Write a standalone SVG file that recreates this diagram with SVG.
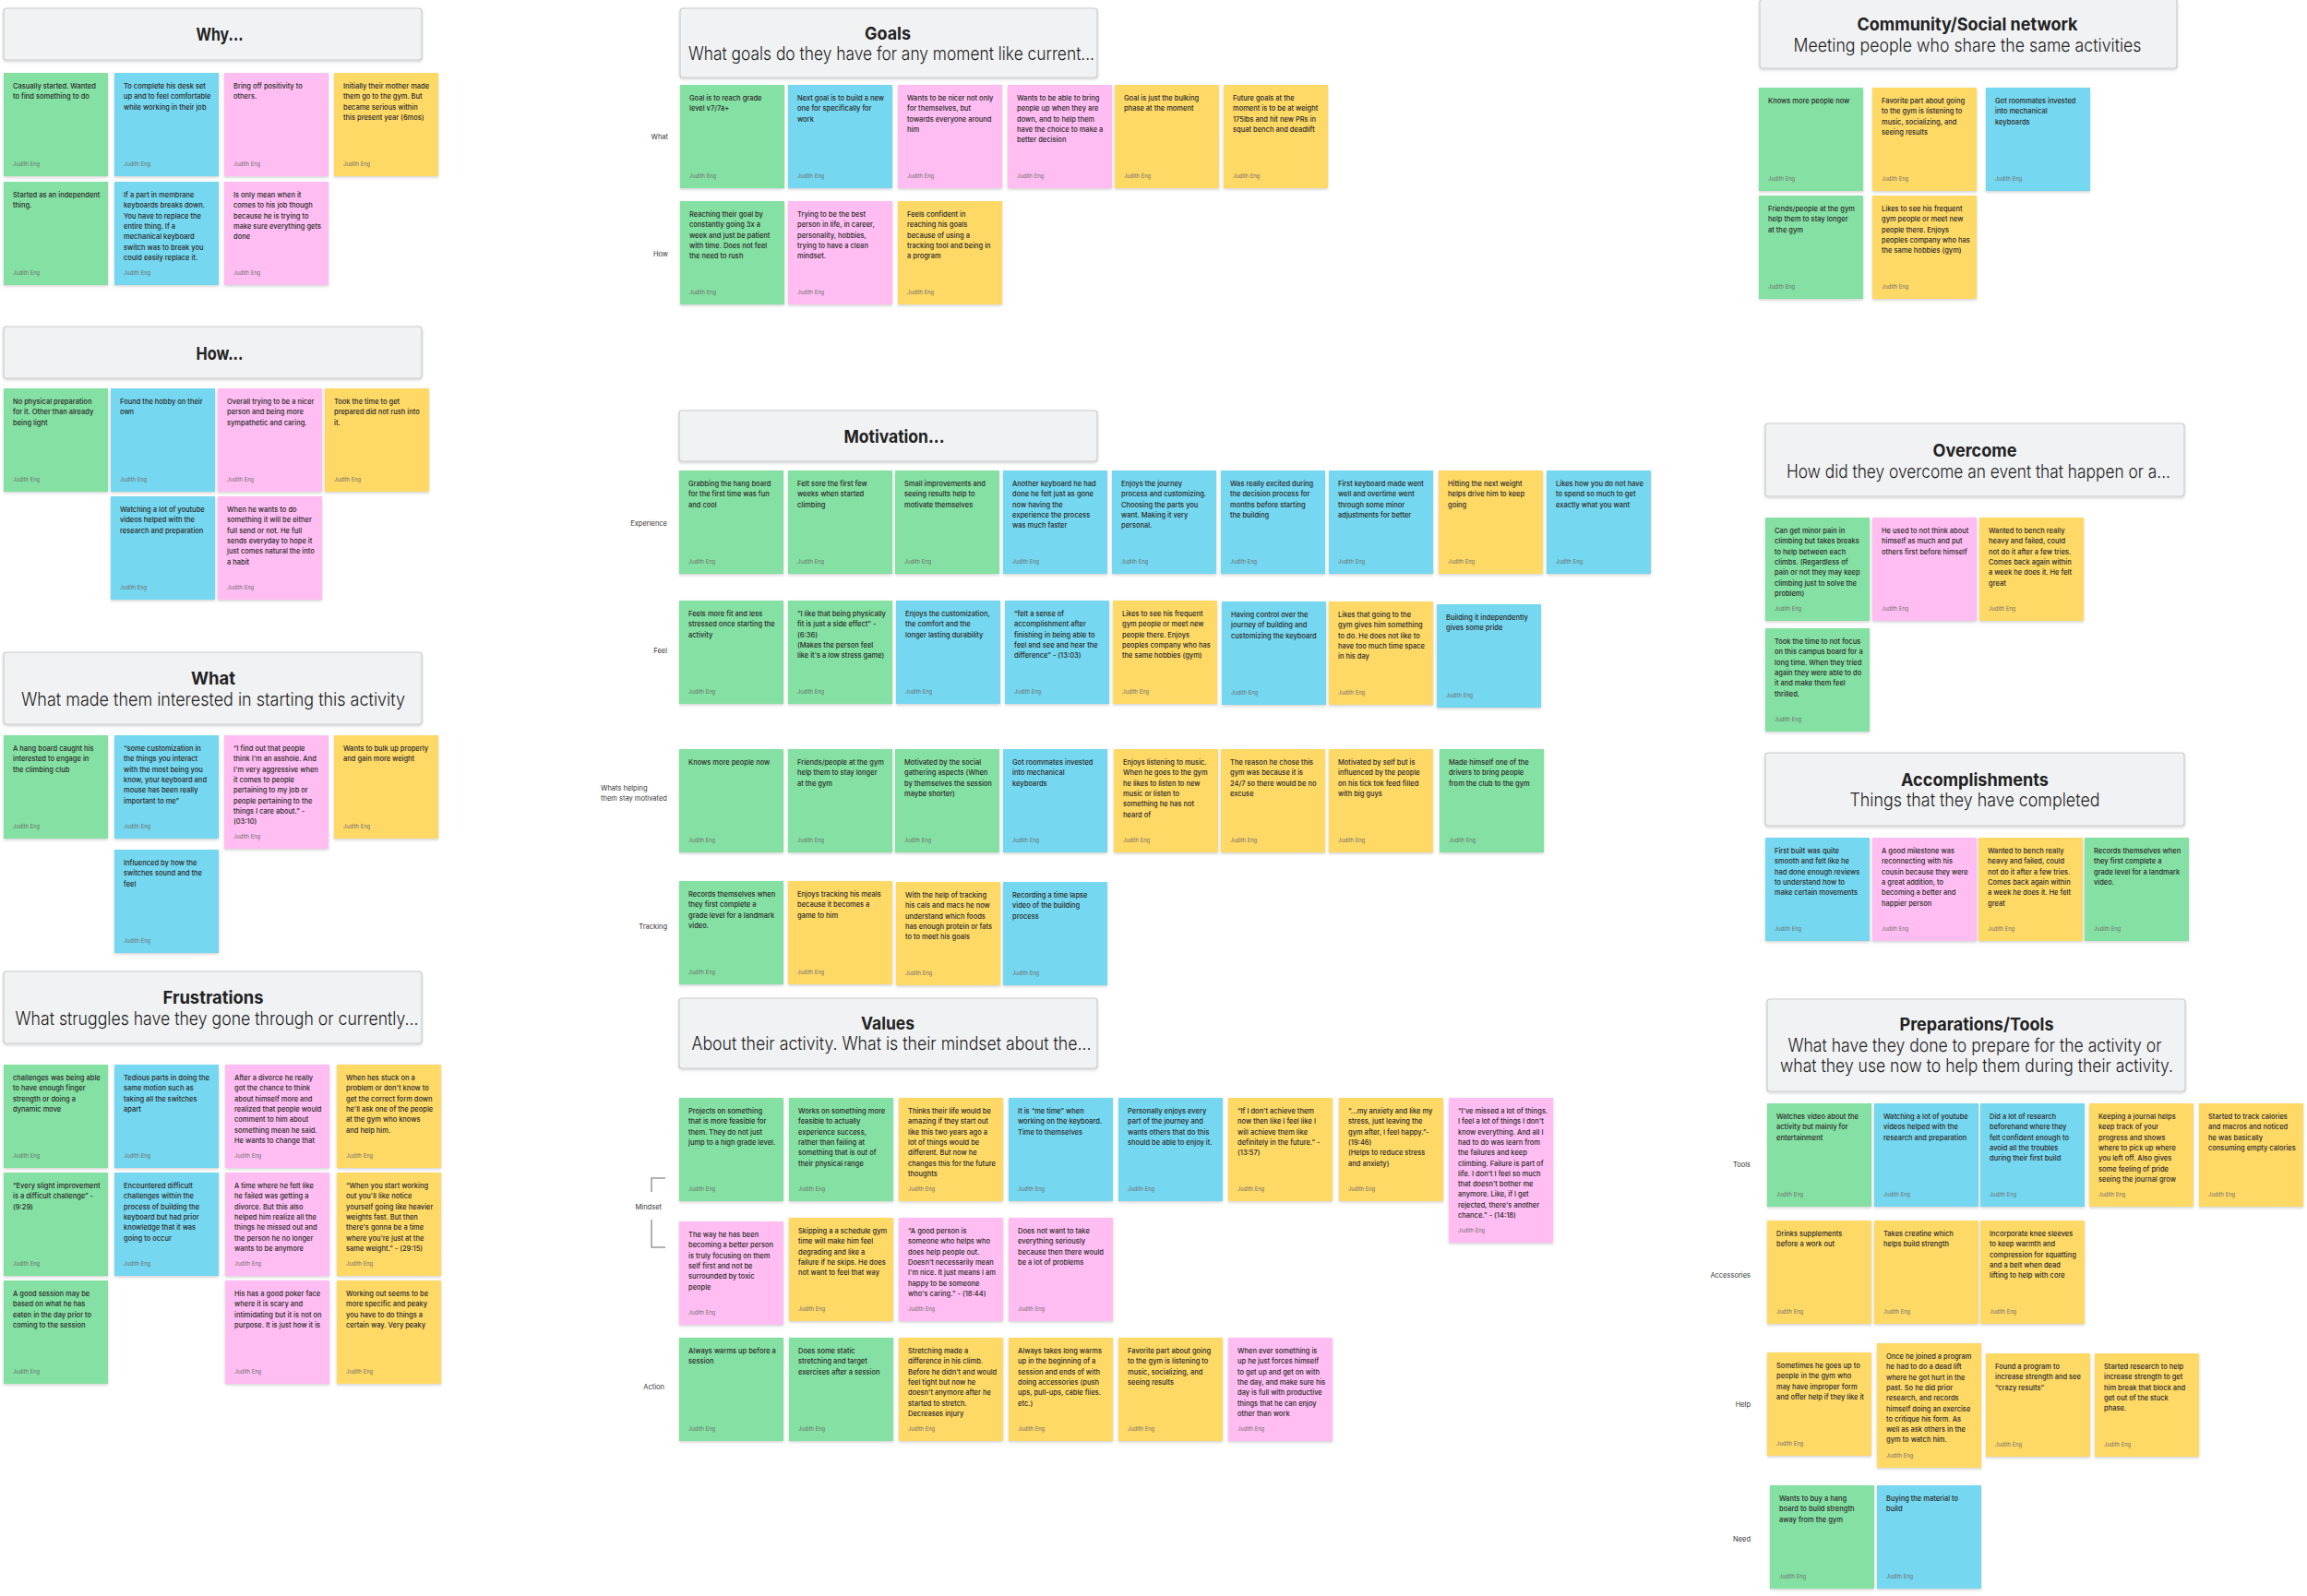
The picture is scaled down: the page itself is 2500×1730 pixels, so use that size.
<svg xmlns="http://www.w3.org/2000/svg" width="2500" height="1730" viewBox="0 0 2500 1730">
<defs>
<filter id="sh" x="-10%" y="-10%" width="120%" height="130%"><feDropShadow dx="0" dy="1.5" stdDeviation="1.5" flood-color="#000" flood-opacity="0.18"/></filter>
<style>
.n{filter:url(#sh)}
.g{fill:#85E0A3}.b{fill:#75D7F0}.p{fill:#FFBDF2}.y{fill:#FFD966}
.t{font-family:Inter,"Noto Sans",sans-serif;font-size:7.5px;font-weight:500;fill:#2a2a2a}
.a{font-family:Inter,"Noto Sans",sans-serif;font-size:5.8px;fill:#6f6f6f}
.hd{fill:#F1F2F4;stroke:#CBCBCB;stroke-width:1.2;filter:url(#sh)}
.ht{font-family:Inter,"Noto Sans",sans-serif;font-weight:700;font-size:19px;fill:#222;text-anchor:middle}
.hs{font-family:Inter,"Noto Sans",sans-serif;font-weight:300;font-size:20px;fill:#222;text-anchor:middle}
.lb{font-family:Inter,"Noto Sans",sans-serif;font-size:7.5px;fill:#333}
.r{text-anchor:end}
.br{fill:none;stroke:#999;stroke-width:1.5}
</style>
</defs>
<rect width="2500" height="1730" fill="#ffffff"/>

<!-- ===== WHY ===== -->
<g id="why-header"><rect class="hd" x="4" y="9" width="453" height="56" rx="3"/><text class="ht" x="238" y="44" textLength="51" lengthAdjust="spacingAndGlyphs">Why...</text></g>
<g id="why-1" transform="translate(4,79)"><rect class="n g" width="113" height="112"/><text class="t"><tspan x="10" y="17">Casually started. Wanted</tspan><tspan x="10" dy="11.3">to find something to do</tspan></text><text class="a" x="10" y="101">Judith Eng</text></g>
<g id="why-2" transform="translate(124,79)"><rect class="n b" width="113" height="112"/><text class="t"><tspan x="10" y="17">To complete his desk set</tspan><tspan x="10" dy="11.3">up and to feel comfortable</tspan><tspan x="10" dy="11.3">while working in their job</tspan></text><text class="a" x="10" y="101">Judith Eng</text></g>
<g id="why-3" transform="translate(243,79)"><rect class="n p" width="113" height="112"/><text class="t"><tspan x="10" y="17">Bring off positivity to</tspan><tspan x="10" dy="11.3">others.</tspan></text><text class="a" x="10" y="101">Judith Eng</text></g>
<g id="why-4" transform="translate(362,79)"><rect class="n y" width="113" height="112"/><text class="t"><tspan x="10" y="17">Initially their mother made</tspan><tspan x="10" dy="11.3">them go to the gym. But</tspan><tspan x="10" dy="11.3">became serious within</tspan><tspan x="10" dy="11.3">this present year (6mos)</tspan></text><text class="a" x="10" y="101">Judith Eng</text></g>
<g id="why-5" transform="translate(4,197)"><rect class="n g" width="113" height="112"/><text class="t"><tspan x="10" y="17">Started as an independent</tspan><tspan x="10" dy="11.3">thing.</tspan></text><text class="a" x="10" y="101">Judith Eng</text></g>
<g id="why-6" transform="translate(124,197)"><rect class="n b" width="113" height="112"/><text class="t"><tspan x="10" y="17">If a part in membrane</tspan><tspan x="10" dy="11.3">keyboards breaks down.</tspan><tspan x="10" dy="11.3">You have to replace the</tspan><tspan x="10" dy="11.3">entire thing. If a</tspan><tspan x="10" dy="11.3">mechanical keyboard</tspan><tspan x="10" dy="11.3">switch was to break you</tspan><tspan x="10" dy="11.3">could easily replace it.</tspan></text><text class="a" x="10" y="101">Judith Eng</text></g>
<g id="why-7" transform="translate(243,197)"><rect class="n p" width="113" height="112"/><text class="t"><tspan x="10" y="17">Is only mean when it</tspan><tspan x="10" dy="11.3">comes to his job though</tspan><tspan x="10" dy="11.3">because he is trying to</tspan><tspan x="10" dy="11.3">make sure everything gets</tspan><tspan x="10" dy="11.3">done</tspan></text><text class="a" x="10" y="101">Judith Eng</text></g>

<!-- ===== HOW ===== -->
<g id="how-header"><rect class="hd" x="4" y="354" width="453" height="56" rx="3"/><text class="ht" x="238" y="390" textLength="51" lengthAdjust="spacingAndGlyphs">How...</text></g>
<g id="how-1" transform="translate(4,421)"><rect class="n g" width="113" height="112"/><text class="t"><tspan x="10" y="17">No physical preparation</tspan><tspan x="10" dy="11.3">for it. Other than already</tspan><tspan x="10" dy="11.3">being light</tspan></text><text class="a" x="10" y="101">Judith Eng</text></g>
<g id="how-2" transform="translate(120,421)"><rect class="n b" width="113" height="112"/><text class="t"><tspan x="10" y="17">Found the hobby on their</tspan><tspan x="10" dy="11.3">own</tspan></text><text class="a" x="10" y="101">Judith Eng</text></g>
<g id="how-3" transform="translate(236,421)"><rect class="n p" width="113" height="112"/><text class="t"><tspan x="10" y="17">Overall trying to be a nicer</tspan><tspan x="10" dy="11.3">person and being more</tspan><tspan x="10" dy="11.3">sympathetic and caring.</tspan></text><text class="a" x="10" y="101">Judith Eng</text></g>
<g id="how-4" transform="translate(352,421)"><rect class="n y" width="113" height="112"/><text class="t"><tspan x="10" y="17">Took the time to get</tspan><tspan x="10" dy="11.3">prepared did not rush into</tspan><tspan x="10" dy="11.3">it.</tspan></text><text class="a" x="10" y="101">Judith Eng</text></g>
<g id="how-5" transform="translate(120,538)"><rect class="n b" width="113" height="112"/><text class="t"><tspan x="10" y="17">Watching a lot of youtube</tspan><tspan x="10" dy="11.3">videos helped with the</tspan><tspan x="10" dy="11.3">research and preparation</tspan></text><text class="a" x="10" y="101">Judith Eng</text></g>
<g id="how-6" transform="translate(236,538)"><rect class="n p" width="113" height="112"/><text class="t"><tspan x="10" y="17">When he wants to do</tspan><tspan x="10" dy="11.3">something it will be either</tspan><tspan x="10" dy="11.3">full send or not. He full</tspan><tspan x="10" dy="11.3">sends everyday to hope it</tspan><tspan x="10" dy="11.3">just comes natural the into</tspan><tspan x="10" dy="11.3">a habit</tspan></text><text class="a" x="10" y="101">Judith Eng</text></g>

<!-- ===== WHAT ===== -->
<g id="what-header"><rect class="hd" x="4" y="707" width="453" height="78" rx="3"/><text class="ht" x="231" y="742" textLength="48" lengthAdjust="spacingAndGlyphs">What</text><text class="hs" x="231" y="765" textLength="416" lengthAdjust="spacingAndGlyphs">What made them interested in starting this activity</text></g>
<g id="what-1" transform="translate(4,797)"><rect class="n g" width="113" height="112"/><text class="t"><tspan x="10" y="17">A hang board caught his</tspan><tspan x="10" dy="11.3">interested to engage in</tspan><tspan x="10" dy="11.3">the climbing club</tspan></text><text class="a" x="10" y="101">Judith Eng</text></g>
<g id="what-2" transform="translate(124,797)"><rect class="n b" width="113" height="112"/><text class="t"><tspan x="10" y="17">“some customization in</tspan><tspan x="10" dy="11.3">the things you interact</tspan><tspan x="10" dy="11.3">with the most being you</tspan><tspan x="10" dy="11.3">know, your keyboard and</tspan><tspan x="10" dy="11.3">mouse has been really</tspan><tspan x="10" dy="11.3">important to me”</tspan></text><text class="a" x="10" y="101">Judith Eng</text></g>
<g id="what-3" transform="translate(243,797)"><rect class="n p" width="113" height="123"/><text class="t"><tspan x="10" y="17">“I find out that people</tspan><tspan x="10" dy="11.3">think I'm an asshole. And</tspan><tspan x="10" dy="11.3">I'm very aggressive when</tspan><tspan x="10" dy="11.3">it comes to people</tspan><tspan x="10" dy="11.3">pertaining to my job or</tspan><tspan x="10" dy="11.3">people pertaining to the</tspan><tspan x="10" dy="11.3">things I care about.” -</tspan><tspan x="10" dy="11.3">(03:10)</tspan></text><text class="a" x="10" y="112">Judith Eng</text></g>
<g id="what-4" transform="translate(362,797)"><rect class="n y" width="113" height="112"/><text class="t"><tspan x="10" y="17">Wants to bulk up properly</tspan><tspan x="10" dy="11.3">and gain more weight</tspan></text><text class="a" x="10" y="101">Judith Eng</text></g>
<g id="what-5" transform="translate(124,921)"><rect class="n b" width="113" height="112"/><text class="t"><tspan x="10" y="17">Influenced by how the</tspan><tspan x="10" dy="11.3">switches sound and the</tspan><tspan x="10" dy="11.3">feel</tspan></text><text class="a" x="10" y="101">Judith Eng</text></g>

<!-- ===== FRUSTRATIONS ===== -->
<g id="frustrations-header"><rect class="hd" x="4" y="1053" width="453" height="78" rx="3"/><text class="ht" x="231" y="1088" textLength="109" lengthAdjust="spacingAndGlyphs">Frustrations</text><text class="hs" x="235" y="1111" textLength="437" lengthAdjust="spacingAndGlyphs">What struggles have they gone through or currently...</text></g>
<g id="fr-1" transform="translate(4,1154)"><rect class="n g" width="113" height="112"/><text class="t"><tspan x="10" y="17">challenges was being able</tspan><tspan x="10" dy="11.3">to have enough finger</tspan><tspan x="10" dy="11.3">strength or doing a</tspan><tspan x="10" dy="11.3">dynamic move</tspan></text><text class="a" x="10" y="101">Judith Eng</text></g>
<g id="fr-2" transform="translate(124,1154)"><rect class="n b" width="113" height="112"/><text class="t"><tspan x="10" y="17">Tedious parts in doing the</tspan><tspan x="10" dy="11.3">same motion such as</tspan><tspan x="10" dy="11.3">taking all the switches</tspan><tspan x="10" dy="11.3">apart</tspan></text><text class="a" x="10" y="101">Judith Eng</text></g>
<g id="fr-3" transform="translate(244,1154)"><rect class="n p" width="113" height="112"/><text class="t"><tspan x="10" y="17">After a divorce he really</tspan><tspan x="10" dy="11.3">got the chance to think</tspan><tspan x="10" dy="11.3">about himself more and</tspan><tspan x="10" dy="11.3">realized that people would</tspan><tspan x="10" dy="11.3">comment to him about</tspan><tspan x="10" dy="11.3">something mean he said.</tspan><tspan x="10" dy="11.3">He wants to change that</tspan></text><text class="a" x="10" y="101">Judith Eng</text></g>
<g id="fr-4" transform="translate(365,1154)"><rect class="n y" width="113" height="112"/><text class="t"><tspan x="10" y="17">When hes stuck on a</tspan><tspan x="10" dy="11.3">problem or don't know to</tspan><tspan x="10" dy="11.3">get the correct form down</tspan><tspan x="10" dy="11.3">he'll ask one of the people</tspan><tspan x="10" dy="11.3">at the gym who knows</tspan><tspan x="10" dy="11.3">and help him.</tspan></text><text class="a" x="10" y="101">Judith Eng</text></g>
<g id="fr-5" transform="translate(4,1271)"><rect class="n g" width="113" height="112"/><text class="t"><tspan x="10" y="17">“Every slight improvement</tspan><tspan x="10" dy="11.3">is a difficult challenge” -</tspan><tspan x="10" dy="11.3">(9:29)</tspan></text><text class="a" x="10" y="101">Judith Eng</text></g>
<g id="fr-6" transform="translate(124,1271)"><rect class="n b" width="113" height="112"/><text class="t"><tspan x="10" y="17">Encountered difficult</tspan><tspan x="10" dy="11.3">challenges within the</tspan><tspan x="10" dy="11.3">process of building the</tspan><tspan x="10" dy="11.3">keyboard but had prior</tspan><tspan x="10" dy="11.3">knowledge that it was</tspan><tspan x="10" dy="11.3">going to occur</tspan></text><text class="a" x="10" y="101">Judith Eng</text></g>
<g id="fr-7" transform="translate(244,1271)"><rect class="n p" width="113" height="112"/><text class="t"><tspan x="10" y="17">A time where he felt like</tspan><tspan x="10" dy="11.3">he failed was getting a</tspan><tspan x="10" dy="11.3">divorce. But this also</tspan><tspan x="10" dy="11.3">helped him realize all the</tspan><tspan x="10" dy="11.3">things he missed out and</tspan><tspan x="10" dy="11.3">the person he no longer</tspan><tspan x="10" dy="11.3">wants to be anymore</tspan></text><text class="a" x="10" y="101">Judith Eng</text></g>
<g id="fr-8" transform="translate(365,1271)"><rect class="n y" width="113" height="112"/><text class="t"><tspan x="10" y="17">“When you start working</tspan><tspan x="10" dy="11.3">out you'll like notice</tspan><tspan x="10" dy="11.3">yourself going like heavier</tspan><tspan x="10" dy="11.3">weights fast. But then</tspan><tspan x="10" dy="11.3">there's gonna be a time</tspan><tspan x="10" dy="11.3">where you're just at the</tspan><tspan x="10" dy="11.3">same weight.” - (29:15)</tspan></text><text class="a" x="10" y="101">Judith Eng</text></g>
<g id="fr-9" transform="translate(4,1388)"><rect class="n g" width="113" height="112"/><text class="t"><tspan x="10" y="17">A good session may be</tspan><tspan x="10" dy="11.3">based on what he has</tspan><tspan x="10" dy="11.3">eaten in the day prior to</tspan><tspan x="10" dy="11.3">coming to the session</tspan></text><text class="a" x="10" y="101">Judith Eng</text></g>
<g id="fr-10" transform="translate(244,1388)"><rect class="n p" width="113" height="112"/><text class="t"><tspan x="10" y="17">His has a good poker face</tspan><tspan x="10" dy="11.3">where it is scary and</tspan><tspan x="10" dy="11.3">intimidating but it is not on</tspan><tspan x="10" dy="11.3">purpose. It is just how it is</tspan></text><text class="a" x="10" y="101">Judith Eng</text></g>
<g id="fr-11" transform="translate(365,1388)"><rect class="n y" width="113" height="112"/><text class="t"><tspan x="10" y="17">Working out seems to be</tspan><tspan x="10" dy="11.3">more specific and peaky</tspan><tspan x="10" dy="11.3">you have to do things a</tspan><tspan x="10" dy="11.3">certain way. Very peaky</tspan></text><text class="a" x="10" y="101">Judith Eng</text></g>

<!-- ===== GOALS ===== -->
<g id="goals-header"><rect class="hd" x="737" y="9" width="452" height="75" rx="3"/><text class="ht" x="962" y="43" textLength="50" lengthAdjust="spacingAndGlyphs">Goals</text><text class="hs" x="966" y="65" textLength="440" lengthAdjust="spacingAndGlyphs">What goals do they have for any moment like current...</text></g>
<g id="goals-labels"><text class="lb r" x="724" y="151">What</text><text class="lb r" x="724" y="278">How</text></g>
<g id="goal-1" transform="translate(737,92)"><rect class="n g" width="113" height="112"/><text class="t"><tspan x="10" y="17">Goal is to reach grade</tspan><tspan x="10" dy="11.3">level v7/7a+</tspan></text><text class="a" x="10" y="101">Judith Eng</text></g>
<g id="goal-2" transform="translate(854,92)"><rect class="n b" width="113" height="112"/><text class="t"><tspan x="10" y="17">Next goal is to build a new</tspan><tspan x="10" dy="11.3">one for specifically for</tspan><tspan x="10" dy="11.3">work</tspan></text><text class="a" x="10" y="101">Judith Eng</text></g>
<g id="goal-3" transform="translate(973,92)"><rect class="n p" width="113" height="112"/><text class="t"><tspan x="10" y="17">Wants to be nicer not only</tspan><tspan x="10" dy="11.3">for themselves, but</tspan><tspan x="10" dy="11.3">towards everyone around</tspan><tspan x="10" dy="11.3">him</tspan></text><text class="a" x="10" y="101">Judith Eng</text></g>
<g id="goal-4" transform="translate(1092,92)"><rect class="n p" width="113" height="112"/><text class="t"><tspan x="10" y="17">Wants to be able to bring</tspan><tspan x="10" dy="11.3">people up when they are</tspan><tspan x="10" dy="11.3">down, and to help them</tspan><tspan x="10" dy="11.3">have the choice to make a</tspan><tspan x="10" dy="11.3">better decision</tspan></text><text class="a" x="10" y="101">Judith Eng</text></g>
<g id="goal-5" transform="translate(1208,92)"><rect class="n y" width="113" height="112"/><text class="t"><tspan x="10" y="17">Goal is just the bulking</tspan><tspan x="10" dy="11.3">phase at the moment</tspan></text><text class="a" x="10" y="101">Judith Eng</text></g>
<g id="goal-6" transform="translate(1326,92)"><rect class="n y" width="113" height="112"/><text class="t"><tspan x="10" y="17">Future goals at the</tspan><tspan x="10" dy="11.3">moment is to be at weight</tspan><tspan x="10" dy="11.3">175lbs and hit new PRs in</tspan><tspan x="10" dy="11.3">squat bench and deadlift</tspan></text><text class="a" x="10" y="101">Judith Eng</text></g>
<g id="goal-7" transform="translate(737,218)"><rect class="n g" width="113" height="112"/><text class="t"><tspan x="10" y="17">Reaching their goal by</tspan><tspan x="10" dy="11.3">constantly going 3x a</tspan><tspan x="10" dy="11.3">week and just be patient</tspan><tspan x="10" dy="11.3">with time. Does not feel</tspan><tspan x="10" dy="11.3">the need to rush</tspan></text><text class="a" x="10" y="101">Judith Eng</text></g>
<g id="goal-8" transform="translate(854,218)"><rect class="n p" width="113" height="112"/><text class="t"><tspan x="10" y="17">Trying to be the best</tspan><tspan x="10" dy="11.3">person in life, in career,</tspan><tspan x="10" dy="11.3">personality, hobbies,</tspan><tspan x="10" dy="11.3">trying to have a clean</tspan><tspan x="10" dy="11.3">mindset.</tspan></text><text class="a" x="10" y="101">Judith Eng</text></g>
<g id="goal-9" transform="translate(973,218)"><rect class="n y" width="113" height="112"/><text class="t"><tspan x="10" y="17">Feels confident in</tspan><tspan x="10" dy="11.3">reaching his goals</tspan><tspan x="10" dy="11.3">because of using a</tspan><tspan x="10" dy="11.3">tracking tool and being in</tspan><tspan x="10" dy="11.3">a program</tspan></text><text class="a" x="10" y="101">Judith Eng</text></g>

<!-- ===== MOTIVATION ===== -->
<g id="motivation-header"><rect class="hd" x="736" y="445" width="453" height="55" rx="3"/><text class="ht" x="969" y="480" textLength="109" lengthAdjust="spacingAndGlyphs">Motivation...</text></g>
<g id="motivation-labels"><text class="lb r" x="723" y="570">Experience</text><text class="lb r" x="723" y="708">Feel</text><text class="lb"><tspan x="651" y="857">Whats helping</tspan><tspan x="651" y="868">them stay motivated</tspan></text><text class="lb r" x="723" y="1007">Tracking</text></g>
<g id="mot-1" transform="translate(736,510)"><rect class="n g" width="113" height="112"/><text class="t"><tspan x="10" y="17">Grabbing the hang board</tspan><tspan x="10" dy="11.3">for the first time was fun</tspan><tspan x="10" dy="11.3">and cool</tspan></text><text class="a" x="10" y="101">Judith Eng</text></g>
<g id="mot-2" transform="translate(854,510)"><rect class="n g" width="113" height="112"/><text class="t"><tspan x="10" y="17">Felt sore the first few</tspan><tspan x="10" dy="11.3">weeks when started</tspan><tspan x="10" dy="11.3">climbing</tspan></text><text class="a" x="10" y="101">Judith Eng</text></g>
<g id="mot-3" transform="translate(970,510)"><rect class="n g" width="113" height="112"/><text class="t"><tspan x="10" y="17">Small improvements and</tspan><tspan x="10" dy="11.3">seeing results help to</tspan><tspan x="10" dy="11.3">motivate themselves</tspan></text><text class="a" x="10" y="101">Judith Eng</text></g>
<g id="mot-4" transform="translate(1087,510)"><rect class="n b" width="113" height="112"/><text class="t"><tspan x="10" y="17">Another keyboard he had</tspan><tspan x="10" dy="11.3">done he felt just as gone</tspan><tspan x="10" dy="11.3">now having the</tspan><tspan x="10" dy="11.3">experience the process</tspan><tspan x="10" dy="11.3">was much faster</tspan></text><text class="a" x="10" y="101">Judith Eng</text></g>
<g id="mot-5" transform="translate(1205,510)"><rect class="n b" width="113" height="112"/><text class="t"><tspan x="10" y="17">Enjoys the journey</tspan><tspan x="10" dy="11.3">process and customizing.</tspan><tspan x="10" dy="11.3">Choosing the parts you</tspan><tspan x="10" dy="11.3">want. Making it very</tspan><tspan x="10" dy="11.3">personal.</tspan></text><text class="a" x="10" y="101">Judith Eng</text></g>
<g id="mot-6" transform="translate(1323,510)"><rect class="n b" width="113" height="112"/><text class="t"><tspan x="10" y="17">Was really excited during</tspan><tspan x="10" dy="11.3">the decision process for</tspan><tspan x="10" dy="11.3">months before starting</tspan><tspan x="10" dy="11.3">the building</tspan></text><text class="a" x="10" y="101">Judith Eng</text></g>
<g id="mot-7" transform="translate(1440,510)"><rect class="n b" width="113" height="112"/><text class="t"><tspan x="10" y="17">First keyboard made went</tspan><tspan x="10" dy="11.3">well and overtime went</tspan><tspan x="10" dy="11.3">through some minor</tspan><tspan x="10" dy="11.3">adjustments for better</tspan></text><text class="a" x="10" y="101">Judith Eng</text></g>
<g id="mot-8" transform="translate(1559,510)"><rect class="n y" width="113" height="112"/><text class="t"><tspan x="10" y="17">Hitting the next weight</tspan><tspan x="10" dy="11.3">helps drive him to keep</tspan><tspan x="10" dy="11.3">going</tspan></text><text class="a" x="10" y="101">Judith Eng</text></g>
<g id="mot-9" transform="translate(1676,510)"><rect class="n b" width="113" height="112"/><text class="t"><tspan x="10" y="17">Likes how you do not have</tspan><tspan x="10" dy="11.3">to spend so much to get</tspan><tspan x="10" dy="11.3">exactly what you want</tspan></text><text class="a" x="10" y="101">Judith Eng</text></g>
<g id="mot-10" transform="translate(736,651)"><rect class="n g" width="113" height="112"/><text class="t"><tspan x="10" y="17">Feels more fit and less</tspan><tspan x="10" dy="11.3">stressed once starting the</tspan><tspan x="10" dy="11.3">activity</tspan></text><text class="a" x="10" y="101">Judith Eng</text></g>
<g id="mot-11" transform="translate(854,651)"><rect class="n g" width="113" height="112"/><text class="t"><tspan x="10" y="17">“I like that being physically</tspan><tspan x="10" dy="11.3">fit is just a side effect” -</tspan><tspan x="10" dy="11.3">(6:36)</tspan><tspan x="10" dy="11.3">(Makes the person feel</tspan><tspan x="10" dy="11.3">like it's a low stress game)</tspan></text><text class="a" x="10" y="101">Judith Eng</text></g>
<g id="mot-12" transform="translate(971,651)"><rect class="n b" width="113" height="112"/><text class="t"><tspan x="10" y="17">Enjoys the customization,</tspan><tspan x="10" dy="11.3">the comfort and the</tspan><tspan x="10" dy="11.3">longer lasting durability</tspan></text><text class="a" x="10" y="101">Judith Eng</text></g>
<g id="mot-13" transform="translate(1089,651)"><rect class="n b" width="113" height="112"/><text class="t"><tspan x="10" y="17">“felt a sense of</tspan><tspan x="10" dy="11.3">accomplishment after</tspan><tspan x="10" dy="11.3">finishing in being able to</tspan><tspan x="10" dy="11.3">feel and see and hear the</tspan><tspan x="10" dy="11.3">difference” - (13:03)</tspan></text><text class="a" x="10" y="101">Judith Eng</text></g>
<g id="mot-14" transform="translate(1206,651)"><rect class="n y" width="113" height="112"/><text class="t"><tspan x="10" y="17">Likes to see his frequent</tspan><tspan x="10" dy="11.3">gym people or meet new</tspan><tspan x="10" dy="11.3">people there. Enjoys</tspan><tspan x="10" dy="11.3">peoples company who has</tspan><tspan x="10" dy="11.3">the same hobbies (gym)</tspan></text><text class="a" x="10" y="101">Judith Eng</text></g>
<g id="mot-15" transform="translate(1324,652)"><rect class="n b" width="113" height="112"/><text class="t"><tspan x="10" y="17">Having control over the</tspan><tspan x="10" dy="11.3">journey of building and</tspan><tspan x="10" dy="11.3">customizing the keyboard</tspan></text><text class="a" x="10" y="101">Judith Eng</text></g>
<g id="mot-16" transform="translate(1440,652)"><rect class="n y" width="113" height="112"/><text class="t"><tspan x="10" y="17">Likes that going to the</tspan><tspan x="10" dy="11.3">gym gives him something</tspan><tspan x="10" dy="11.3">to do. He does not like to</tspan><tspan x="10" dy="11.3">have too much time space</tspan><tspan x="10" dy="11.3">in his day</tspan></text><text class="a" x="10" y="101">Judith Eng</text></g>
<g id="mot-17" transform="translate(1557,655)"><rect class="n b" width="113" height="112"/><text class="t"><tspan x="10" y="17">Building it independently</tspan><tspan x="10" dy="11.3">gives some pride</tspan></text><text class="a" x="10" y="101">Judith Eng</text></g>
<g id="mot-18" transform="translate(736,812)"><rect class="n g" width="113" height="112"/><text class="t"><tspan x="10" y="17">Knows more people now</tspan></text><text class="a" x="10" y="101">Judith Eng</text></g>
<g id="mot-19" transform="translate(854,812)"><rect class="n g" width="113" height="112"/><text class="t"><tspan x="10" y="17">Friends/people at the gym</tspan><tspan x="10" dy="11.3">help them to stay longer</tspan><tspan x="10" dy="11.3">at the gym</tspan></text><text class="a" x="10" y="101">Judith Eng</text></g>
<g id="mot-20" transform="translate(970,812)"><rect class="n g" width="113" height="112"/><text class="t"><tspan x="10" y="17">Motivated by the social</tspan><tspan x="10" dy="11.3">gathering aspects (When</tspan><tspan x="10" dy="11.3">by themselves the session</tspan><tspan x="10" dy="11.3">maybe shorter)</tspan></text><text class="a" x="10" y="101">Judith Eng</text></g>
<g id="mot-21" transform="translate(1087,812)"><rect class="n b" width="113" height="112"/><text class="t"><tspan x="10" y="17">Got roommates invested</tspan><tspan x="10" dy="11.3">into mechanical</tspan><tspan x="10" dy="11.3">keyboards</tspan></text><text class="a" x="10" y="101">Judith Eng</text></g>
<g id="mot-22" transform="translate(1207,812)"><rect class="n y" width="113" height="112"/><text class="t"><tspan x="10" y="17">Enjoys listening to music.</tspan><tspan x="10" dy="11.3">When he goes to the gym</tspan><tspan x="10" dy="11.3">he likes to listen to new</tspan><tspan x="10" dy="11.3">music or listen to</tspan><tspan x="10" dy="11.3">something he has not</tspan><tspan x="10" dy="11.3">heard of</tspan></text><text class="a" x="10" y="101">Judith Eng</text></g>
<g id="mot-23" transform="translate(1323,812)"><rect class="n y" width="113" height="112"/><text class="t"><tspan x="10" y="17">The reason he chose this</tspan><tspan x="10" dy="11.3">gym was because it is</tspan><tspan x="10" dy="11.3">24/7 so there would be no</tspan><tspan x="10" dy="11.3">excuse</tspan></text><text class="a" x="10" y="101">Judith Eng</text></g>
<g id="mot-24" transform="translate(1440,812)"><rect class="n y" width="113" height="112"/><text class="t"><tspan x="10" y="17">Motivated by self but is</tspan><tspan x="10" dy="11.3">influenced by the people</tspan><tspan x="10" dy="11.3">on his tick tok feed filled</tspan><tspan x="10" dy="11.3">with big guys</tspan></text><text class="a" x="10" y="101">Judith Eng</text></g>
<g id="mot-25" transform="translate(1560,812)"><rect class="n g" width="113" height="112"/><text class="t"><tspan x="10" y="17">Made himself one of the</tspan><tspan x="10" dy="11.3">drivers to bring people</tspan><tspan x="10" dy="11.3">from the club to the gym</tspan></text><text class="a" x="10" y="101">Judith Eng</text></g>
<g id="mot-26" transform="translate(736,955)"><rect class="n g" width="113" height="112"/><text class="t"><tspan x="10" y="17">Records themselves when</tspan><tspan x="10" dy="11.3">they first complete a</tspan><tspan x="10" dy="11.3">grade level for a landmark</tspan><tspan x="10" dy="11.3">video.</tspan></text><text class="a" x="10" y="101">Judith Eng</text></g>
<g id="mot-27" transform="translate(854,955)"><rect class="n y" width="113" height="112"/><text class="t"><tspan x="10" y="17">Enjoys tracking his meals</tspan><tspan x="10" dy="11.3">because it becomes a</tspan><tspan x="10" dy="11.3">game to him</tspan></text><text class="a" x="10" y="101">Judith Eng</text></g>
<g id="mot-28" transform="translate(971,956)"><rect class="n y" width="113" height="112"/><text class="t"><tspan x="10" y="17">With the help of tracking</tspan><tspan x="10" dy="11.3">his cals and macs he now</tspan><tspan x="10" dy="11.3">understand which foods</tspan><tspan x="10" dy="11.3">has enough protein or fats</tspan><tspan x="10" dy="11.3">to to meet his goals</tspan></text><text class="a" x="10" y="101">Judith Eng</text></g>
<g id="mot-29" transform="translate(1087,956)"><rect class="n b" width="113" height="112"/><text class="t"><tspan x="10" y="17">Recording a time lapse</tspan><tspan x="10" dy="11.3">video of the building</tspan><tspan x="10" dy="11.3">process</tspan></text><text class="a" x="10" y="101">Judith Eng</text></g>

<!-- ===== VALUES ===== -->
<g id="values-header"><rect class="hd" x="736" y="1082" width="453" height="76" rx="3"/><text class="ht" x="962" y="1116" textLength="58" lengthAdjust="spacingAndGlyphs">Values</text><text class="hs" x="966" y="1138" textLength="433" lengthAdjust="spacingAndGlyphs">About their activity. What is their mindset about the...</text></g>
<g id="values-labels"><text class="lb r" x="717" y="1311">Mindset</text><text class="lb r" x="720" y="1506">Action</text></g>
<g id="connectors"><path class="br" d="M721,1277 H706 V1292"/><path class="br" d="M706,1322 V1352 H721"/></g>
<g id="val-1" transform="translate(736,1190)"><rect class="n g" width="113" height="112"/><text class="t"><tspan x="10" y="17">Projects on something</tspan><tspan x="10" dy="11.3">that is more feasible for</tspan><tspan x="10" dy="11.3">them. They do not just</tspan><tspan x="10" dy="11.3">jump to a high grade level.</tspan></text><text class="a" x="10" y="101">Judith Eng</text></g>
<g id="val-2" transform="translate(855,1190)"><rect class="n g" width="113" height="112"/><text class="t"><tspan x="10" y="17">Works on something more</tspan><tspan x="10" dy="11.3">feasible to actually</tspan><tspan x="10" dy="11.3">experience success,</tspan><tspan x="10" dy="11.3">rather than failing at</tspan><tspan x="10" dy="11.3">something that is out of</tspan><tspan x="10" dy="11.3">their physical range</tspan></text><text class="a" x="10" y="101">Judith Eng</text></g>
<g id="val-3" transform="translate(974,1190)"><rect class="n y" width="113" height="112"/><text class="t"><tspan x="10" y="17">Thinks their life would be</tspan><tspan x="10" dy="11.3">amazing if they start out</tspan><tspan x="10" dy="11.3">like this two years ago a</tspan><tspan x="10" dy="11.3">lot of things would be</tspan><tspan x="10" dy="11.3">different. But now he</tspan><tspan x="10" dy="11.3">changes this for the future</tspan><tspan x="10" dy="11.3">thoughts</tspan></text><text class="a" x="10" y="101">Judith Eng</text></g>
<g id="val-4" transform="translate(1093,1190)"><rect class="n b" width="113" height="112"/><text class="t"><tspan x="10" y="17">It is “me time” when</tspan><tspan x="10" dy="11.3">working on the keyboard.</tspan><tspan x="10" dy="11.3">Time to themselves</tspan></text><text class="a" x="10" y="101">Judith Eng</text></g>
<g id="val-5" transform="translate(1212,1190)"><rect class="n b" width="113" height="112"/><text class="t"><tspan x="10" y="17">Personally enjoys every</tspan><tspan x="10" dy="11.3">part of the journey and</tspan><tspan x="10" dy="11.3">wants others that do this</tspan><tspan x="10" dy="11.3">should be able to enjoy it.</tspan></text><text class="a" x="10" y="101">Judith Eng</text></g>
<g id="val-6" transform="translate(1331,1190)"><rect class="n y" width="113" height="112"/><text class="t"><tspan x="10" y="17">“If I don't achieve them</tspan><tspan x="10" dy="11.3">now then like I feel like I</tspan><tspan x="10" dy="11.3">will achieve them like</tspan><tspan x="10" dy="11.3">definitely in the future.” -</tspan><tspan x="10" dy="11.3">(13:57)</tspan></text><text class="a" x="10" y="101">Judith Eng</text></g>
<g id="val-7" transform="translate(1451,1190)"><rect class="n y" width="113" height="112"/><text class="t"><tspan x="10" y="17">“...my anxiety and like my</tspan><tspan x="10" dy="11.3">stress, just leaving the</tspan><tspan x="10" dy="11.3">gym after, I feel happy.”-</tspan><tspan x="10" dy="11.3">(19:46)</tspan><tspan x="10" dy="11.3">(Helps to reduce stress</tspan><tspan x="10" dy="11.3">and anxiety)</tspan></text><text class="a" x="10" y="101">Judith Eng</text></g>
<g id="val-8" transform="translate(1570,1190)"><rect class="n p" width="113" height="157"/><text class="t"><tspan x="10" y="17">“I've missed a lot of things.</tspan><tspan x="10" dy="11.3">I feel a lot of things I don't</tspan><tspan x="10" dy="11.3">know everything. And all I</tspan><tspan x="10" dy="11.3">had to do was learn from</tspan><tspan x="10" dy="11.3">the failures and keep</tspan><tspan x="10" dy="11.3">climbing. Failure is part of</tspan><tspan x="10" dy="11.3">life. I don't I feel so much</tspan><tspan x="10" dy="11.3">that doesn't bother me</tspan><tspan x="10" dy="11.3">anymore. Like, if I get</tspan><tspan x="10" dy="11.3">rejected, there's another</tspan><tspan x="10" dy="11.3">chance.” - (14:18)</tspan></text><text class="a" x="10" y="146">Judith Eng</text></g>
<g id="val-9" transform="translate(736,1324)"><rect class="n p" width="113" height="112"/><text class="t"><tspan x="10" y="17">The way he has been</tspan><tspan x="10" dy="11.3">becoming a better person</tspan><tspan x="10" dy="11.3">is truly focusing on them</tspan><tspan x="10" dy="11.3">self first and not be</tspan><tspan x="10" dy="11.3">surrounded by toxic</tspan><tspan x="10" dy="11.3">people</tspan></text><text class="a" x="10" y="101">Judith Eng</text></g>
<g id="val-10" transform="translate(855,1320)"><rect class="n y" width="113" height="112"/><text class="t"><tspan x="10" y="17">Skipping a a schedule gym</tspan><tspan x="10" dy="11.3">time will make him feel</tspan><tspan x="10" dy="11.3">degrading and like a</tspan><tspan x="10" dy="11.3">failure if he skips. He does</tspan><tspan x="10" dy="11.3">not want to feel that way</tspan></text><text class="a" x="10" y="101">Judith Eng</text></g>
<g id="val-11" transform="translate(974,1320)"><rect class="n p" width="113" height="112"/><text class="t"><tspan x="10" y="17">“A good person is</tspan><tspan x="10" dy="11.3">someone who helps who</tspan><tspan x="10" dy="11.3">does help people out.</tspan><tspan x="10" dy="11.3">Doesn't necessarily mean</tspan><tspan x="10" dy="11.3">I'm nice. It just means I am</tspan><tspan x="10" dy="11.3">happy to be someone</tspan><tspan x="10" dy="11.3">who's caring.” - (18:44)</tspan></text><text class="a" x="10" y="101">Judith Eng</text></g>
<g id="val-12" transform="translate(1093,1320)"><rect class="n p" width="113" height="112"/><text class="t"><tspan x="10" y="17">Does not want to take</tspan><tspan x="10" dy="11.3">everything seriously</tspan><tspan x="10" dy="11.3">because then there would</tspan><tspan x="10" dy="11.3">be a lot of problems</tspan></text><text class="a" x="10" y="101">Judith Eng</text></g>
<g id="val-13" transform="translate(736,1450)"><rect class="n g" width="113" height="112"/><text class="t"><tspan x="10" y="17">Always warms up before a</tspan><tspan x="10" dy="11.3">session</tspan></text><text class="a" x="10" y="101">Judith Eng</text></g>
<g id="val-14" transform="translate(855,1450)"><rect class="n g" width="113" height="112"/><text class="t"><tspan x="10" y="17">Does some static</tspan><tspan x="10" dy="11.3">stretching and target</tspan><tspan x="10" dy="11.3">exercises after a session</tspan></text><text class="a" x="10" y="101">Judith Eng</text></g>
<g id="val-15" transform="translate(974,1450)"><rect class="n y" width="113" height="112"/><text class="t"><tspan x="10" y="17">Stretching made a</tspan><tspan x="10" dy="11.3">difference in his climb.</tspan><tspan x="10" dy="11.3">Before he didn't and would</tspan><tspan x="10" dy="11.3">feel tight but now he</tspan><tspan x="10" dy="11.3">doesn't anymore after he</tspan><tspan x="10" dy="11.3">started to stretch.</tspan><tspan x="10" dy="11.3">Decreases injury</tspan></text><text class="a" x="10" y="101">Judith Eng</text></g>
<g id="val-16" transform="translate(1093,1450)"><rect class="n y" width="113" height="112"/><text class="t"><tspan x="10" y="17">Always takes long warms</tspan><tspan x="10" dy="11.3">up in the beginning of a</tspan><tspan x="10" dy="11.3">session and ends of with</tspan><tspan x="10" dy="11.3">doing accessories (push</tspan><tspan x="10" dy="11.3">ups, pull-ups, cable flies.</tspan><tspan x="10" dy="11.3">etc.)</tspan></text><text class="a" x="10" y="101">Judith Eng</text></g>
<g id="val-17" transform="translate(1212,1450)"><rect class="n y" width="113" height="112"/><text class="t"><tspan x="10" y="17">Favorite part about going</tspan><tspan x="10" dy="11.3">to the gym is listening to</tspan><tspan x="10" dy="11.3">music, socializing, and</tspan><tspan x="10" dy="11.3">seeing results</tspan></text><text class="a" x="10" y="101">Judith Eng</text></g>
<g id="val-18" transform="translate(1331,1450)"><rect class="n p" width="113" height="112"/><text class="t"><tspan x="10" y="17">When ever something is</tspan><tspan x="10" dy="11.3">up he just forces himself</tspan><tspan x="10" dy="11.3">to get up and get on with</tspan><tspan x="10" dy="11.3">the day, and make sure his</tspan><tspan x="10" dy="11.3">day is full with productive</tspan><tspan x="10" dy="11.3">things that he can enjoy</tspan><tspan x="10" dy="11.3">other than work</tspan></text><text class="a" x="10" y="101">Judith Eng</text></g>

<!-- ===== COMMUNITY ===== -->
<g id="community-header"><rect class="hd" x="1907" y="-1" width="452" height="75" rx="3"/><text class="ht" x="2132" y="33" textLength="239" lengthAdjust="spacingAndGlyphs">Community/Social network</text><text class="hs" x="2132" y="56" textLength="377" lengthAdjust="spacingAndGlyphs">Meeting people who share the same activities</text></g>
<g id="com-1" transform="translate(1906,95)"><rect class="n g" width="113" height="112"/><text class="t"><tspan x="10" y="17">Knows more people now</tspan></text><text class="a" x="10" y="101">Judith Eng</text></g>
<g id="com-2" transform="translate(2029,95)"><rect class="n y" width="113" height="112"/><text class="t"><tspan x="10" y="17">Favorite part about going</tspan><tspan x="10" dy="11.3">to the gym is listening to</tspan><tspan x="10" dy="11.3">music, socializing, and</tspan><tspan x="10" dy="11.3">seeing results</tspan></text><text class="a" x="10" y="101">Judith Eng</text></g>
<g id="com-3" transform="translate(2152,95)"><rect class="n b" width="113" height="112"/><text class="t"><tspan x="10" y="17">Got roommates invested</tspan><tspan x="10" dy="11.3">into mechanical</tspan><tspan x="10" dy="11.3">keyboards</tspan></text><text class="a" x="10" y="101">Judith Eng</text></g>
<g id="com-4" transform="translate(1906,212)"><rect class="n g" width="113" height="112"/><text class="t"><tspan x="10" y="17">Friends/people at the gym</tspan><tspan x="10" dy="11.3">help them to stay longer</tspan><tspan x="10" dy="11.3">at the gym</tspan></text><text class="a" x="10" y="101">Judith Eng</text></g>
<g id="com-5" transform="translate(2029,212)"><rect class="n y" width="113" height="112"/><text class="t"><tspan x="10" y="17">Likes to see his frequent</tspan><tspan x="10" dy="11.3">gym people or meet new</tspan><tspan x="10" dy="11.3">people there. Enjoys</tspan><tspan x="10" dy="11.3">peoples company who has</tspan><tspan x="10" dy="11.3">the same hobbies (gym)</tspan></text><text class="a" x="10" y="101">Judith Eng</text></g>

<!-- ===== OVERCOME ===== -->
<g id="overcome-header"><rect class="hd" x="1913" y="459" width="454" height="79" rx="3"/><text class="ht" x="2140" y="495" textLength="91" lengthAdjust="spacingAndGlyphs">Overcome</text><text class="hs" x="2144" y="518" textLength="416" lengthAdjust="spacingAndGlyphs">How did they overcome an event that happen or a...</text></g>
<g id="ov-1" transform="translate(1913,561)"><rect class="n g" width="113" height="112"/><text class="t"><tspan x="10" y="17">Can get minor pain in</tspan><tspan x="10" dy="11.3">climbing but takes breaks</tspan><tspan x="10" dy="11.3">to help between each</tspan><tspan x="10" dy="11.3">climbs. (Regardless of</tspan><tspan x="10" dy="11.3">pain or not they may keep</tspan><tspan x="10" dy="11.3">climbing just to solve the</tspan><tspan x="10" dy="11.3">problem)</tspan></text><text class="a" x="10" y="101">Judith Eng</text></g>
<g id="ov-2" transform="translate(2029,561)"><rect class="n p" width="113" height="112"/><text class="t"><tspan x="10" y="17">He used to not think about</tspan><tspan x="10" dy="11.3">himself as much and put</tspan><tspan x="10" dy="11.3">others first before himself</tspan></text><text class="a" x="10" y="101">Judith Eng</text></g>
<g id="ov-3" transform="translate(2145,561)"><rect class="n y" width="113" height="112"/><text class="t"><tspan x="10" y="17">Wanted to bench really</tspan><tspan x="10" dy="11.3">heavy and failed, could</tspan><tspan x="10" dy="11.3">not do it after a few tries.</tspan><tspan x="10" dy="11.3">Comes back again within</tspan><tspan x="10" dy="11.3">a week he does it. He felt</tspan><tspan x="10" dy="11.3">great</tspan></text><text class="a" x="10" y="101">Judith Eng</text></g>
<g id="ov-4" transform="translate(1913,681)"><rect class="n g" width="113" height="112"/><text class="t"><tspan x="10" y="17">Took the time to not focus</tspan><tspan x="10" dy="11.3">on this campus board for a</tspan><tspan x="10" dy="11.3">long time. When they tried</tspan><tspan x="10" dy="11.3">again they were able to do</tspan><tspan x="10" dy="11.3">it and make them feel</tspan><tspan x="10" dy="11.3">thrilled.</tspan></text><text class="a" x="10" y="101">Judith Eng</text></g>

<!-- ===== ACCOMPLISHMENTS ===== -->
<g id="accomplishments-header"><rect class="hd" x="1913" y="816" width="454" height="79" rx="3"/><text class="ht" x="2140" y="852" textLength="160" lengthAdjust="spacingAndGlyphs">Accomplishments</text><text class="hs" x="2140" y="874" textLength="271" lengthAdjust="spacingAndGlyphs">Things that they have completed</text></g>
<g id="acc-1" transform="translate(1913,908)"><rect class="n b" width="113" height="112"/><text class="t"><tspan x="10" y="17">First built was quite</tspan><tspan x="10" dy="11.3">smooth and felt like he</tspan><tspan x="10" dy="11.3">had done enough reviews</tspan><tspan x="10" dy="11.3">to understand how to</tspan><tspan x="10" dy="11.3">make certain movements</tspan></text><text class="a" x="10" y="101">Judith Eng</text></g>
<g id="acc-2" transform="translate(2029,908)"><rect class="n p" width="113" height="112"/><text class="t"><tspan x="10" y="17">A good milestone was</tspan><tspan x="10" dy="11.3">reconnecting with his</tspan><tspan x="10" dy="11.3">cousin because they were</tspan><tspan x="10" dy="11.3">a great addition, to</tspan><tspan x="10" dy="11.3">becoming a better and</tspan><tspan x="10" dy="11.3">happier person</tspan></text><text class="a" x="10" y="101">Judith Eng</text></g>
<g id="acc-3" transform="translate(2144,908)"><rect class="n y" width="113" height="112"/><text class="t"><tspan x="10" y="17">Wanted to bench really</tspan><tspan x="10" dy="11.3">heavy and failed, could</tspan><tspan x="10" dy="11.3">not do it after a few tries.</tspan><tspan x="10" dy="11.3">Comes back again within</tspan><tspan x="10" dy="11.3">a week he does it. He felt</tspan><tspan x="10" dy="11.3">great</tspan></text><text class="a" x="10" y="101">Judith Eng</text></g>
<g id="acc-4" transform="translate(2259,908)"><rect class="n g" width="113" height="112"/><text class="t"><tspan x="10" y="17">Records themselves when</tspan><tspan x="10" dy="11.3">they first complete a</tspan><tspan x="10" dy="11.3">grade level for a landmark</tspan><tspan x="10" dy="11.3">video.</tspan></text><text class="a" x="10" y="101">Judith Eng</text></g>

<!-- ===== PREPARATIONS / TOOLS ===== -->
<g id="preparations-header"><rect class="hd" x="1915" y="1083" width="453" height="100" rx="3"/><text class="ht" x="2142" y="1117" textLength="167" lengthAdjust="spacingAndGlyphs">Preparations/Tools</text><text class="hs" x="2140" y="1140" textLength="405" lengthAdjust="spacingAndGlyphs">What have they done to prepare for the activity or</text><text class="hs" x="2142" y="1162" textLength="426" lengthAdjust="spacingAndGlyphs">what they use now to help them during their activity.</text></g>
<g id="prep-labels"><text class="lb r" x="1897" y="1265">Tools</text><text class="lb r" x="1897" y="1385">Accessories</text><text class="lb r" x="1897" y="1525">Help</text><text class="lb r" x="1897" y="1671">Need</text></g>
<g id="prep-1" transform="translate(1915,1196)"><rect class="n g" width="113" height="112"/><text class="t"><tspan x="10" y="17">Watches video about the</tspan><tspan x="10" dy="11.3">activity but mainly for</tspan><tspan x="10" dy="11.3">entertainment</tspan></text><text class="a" x="10" y="101">Judith Eng</text></g>
<g id="prep-2" transform="translate(2031,1196)"><rect class="n b" width="113" height="112"/><text class="t"><tspan x="10" y="17">Watching a lot of youtube</tspan><tspan x="10" dy="11.3">videos helped with the</tspan><tspan x="10" dy="11.3">research and preparation</tspan></text><text class="a" x="10" y="101">Judith Eng</text></g>
<g id="prep-3" transform="translate(2146,1196)"><rect class="n b" width="113" height="112"/><text class="t"><tspan x="10" y="17">Did a lot of research</tspan><tspan x="10" dy="11.3">beforehand where they</tspan><tspan x="10" dy="11.3">felt confident enough to</tspan><tspan x="10" dy="11.3">avoid all the troubles</tspan><tspan x="10" dy="11.3">during their first build</tspan></text><text class="a" x="10" y="101">Judith Eng</text></g>
<g id="prep-4" transform="translate(2264,1196)"><rect class="n y" width="113" height="112"/><text class="t"><tspan x="10" y="17">Keeping a journal helps</tspan><tspan x="10" dy="11.3">keep track of your</tspan><tspan x="10" dy="11.3">progress and shows</tspan><tspan x="10" dy="11.3">where to pick up where</tspan><tspan x="10" dy="11.3">you left off. Also gives</tspan><tspan x="10" dy="11.3">some feeling of pride</tspan><tspan x="10" dy="11.3">seeing the journal grow</tspan></text><text class="a" x="10" y="101">Judith Eng</text></g>
<g id="prep-5" transform="translate(2383,1196)"><rect class="n y" width="113" height="112"/><text class="t"><tspan x="10" y="17">Started to track calories</tspan><tspan x="10" dy="11.3">and macros and noticed</tspan><tspan x="10" dy="11.3">he was basically</tspan><tspan x="10" dy="11.3">consuming empty calories</tspan></text><text class="a" x="10" y="101">Judith Eng</text></g>
<g id="prep-6" transform="translate(1915,1323)"><rect class="n y" width="113" height="112"/><text class="t"><tspan x="10" y="17">Drinks supplements</tspan><tspan x="10" dy="11.3">before a work out</tspan></text><text class="a" x="10" y="101">Judith Eng</text></g>
<g id="prep-7" transform="translate(2031,1323)"><rect class="n y" width="113" height="112"/><text class="t"><tspan x="10" y="17">Takes creatine which</tspan><tspan x="10" dy="11.3">helps build strength</tspan></text><text class="a" x="10" y="101">Judith Eng</text></g>
<g id="prep-8" transform="translate(2146,1323)"><rect class="n y" width="113" height="112"/><text class="t"><tspan x="10" y="17">Incorporate knee sleeves</tspan><tspan x="10" dy="11.3">to keep warmth and</tspan><tspan x="10" dy="11.3">compression for squatting</tspan><tspan x="10" dy="11.3">and a belt when dead</tspan><tspan x="10" dy="11.3">lifting to help with core</tspan></text><text class="a" x="10" y="101">Judith Eng</text></g>
<g id="prep-9" transform="translate(1915,1466)"><rect class="n y" width="113" height="112"/><text class="t"><tspan x="10" y="17">Sometimes he goes up to</tspan><tspan x="10" dy="11.3">people in the gym who</tspan><tspan x="10" dy="11.3">may have improper form</tspan><tspan x="10" dy="11.3">and offer help if they like it</tspan></text><text class="a" x="10" y="101">Judith Eng</text></g>
<g id="prep-10" transform="translate(2034,1456)"><rect class="n y" width="113" height="135"/><text class="t"><tspan x="10" y="17">Once he joined a program</tspan><tspan x="10" dy="11.3">he had to do a dead lift</tspan><tspan x="10" dy="11.3">where he got hurt in the</tspan><tspan x="10" dy="11.3">past. So he did prior</tspan><tspan x="10" dy="11.3">research, and records</tspan><tspan x="10" dy="11.3">himself doing an exercise</tspan><tspan x="10" dy="11.3">to critique his form. As</tspan><tspan x="10" dy="11.3">well as ask others in the</tspan><tspan x="10" dy="11.3">gym to watch him.</tspan></text><text class="a" x="10" y="124">Judith Eng</text></g>
<g id="prep-11" transform="translate(2152,1467)"><rect class="n y" width="113" height="112"/><text class="t"><tspan x="10" y="17">Found a program to</tspan><tspan x="10" dy="11.3">increase strength and see</tspan><tspan x="10" dy="11.3">“crazy results”</tspan></text><text class="a" x="10" y="101">Judith Eng</text></g>
<g id="prep-12" transform="translate(2270,1467)"><rect class="n y" width="113" height="112"/><text class="t"><tspan x="10" y="17">Started research to help</tspan><tspan x="10" dy="11.3">increase strength to get</tspan><tspan x="10" dy="11.3">him break that block and</tspan><tspan x="10" dy="11.3">get out of the stuck</tspan><tspan x="10" dy="11.3">phase.</tspan></text><text class="a" x="10" y="101">Judith Eng</text></g>
<g id="prep-13" transform="translate(1918,1610)"><rect class="n g" width="113" height="112"/><text class="t"><tspan x="10" y="17">Wants to buy a hang</tspan><tspan x="10" dy="11.3">board to build strength</tspan><tspan x="10" dy="11.3">away from the gym</tspan></text><text class="a" x="10" y="101">Judith Eng</text></g>
<g id="prep-14" transform="translate(2034,1610)"><rect class="n b" width="113" height="112"/><text class="t"><tspan x="10" y="17">Buying the material to</tspan><tspan x="10" dy="11.3">build</tspan></text><text class="a" x="10" y="101">Judith Eng</text></g>
</svg>
